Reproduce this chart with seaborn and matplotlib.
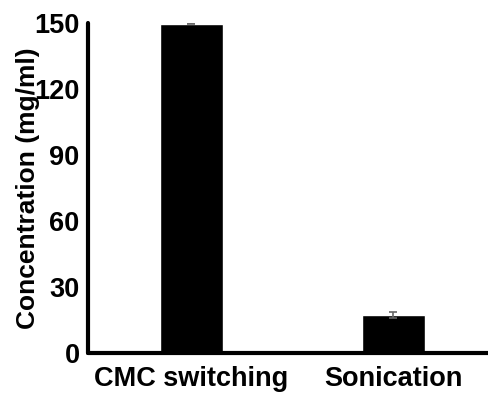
import matplotlib
matplotlib.use("Agg")
import matplotlib.pyplot as plt
import seaborn as sns
import pandas as pd

categories = ["CMC switching", "Sonication"]
concentration = [149.8, 17.3]
errors = [0.3, 1.3]
yticks = [0, 30, 60, 90, 120, 150]

sns.set_style("white")
plt.rcParams['font.family'] = ['Liberation Sans', 'DejaVu Sans']
plt.rcParams['font.weight'] = 'bold'
plt.rcParams['text.color'] = 'black'
plt.rcParams['axes.labelcolor'] = 'black'
plt.rcParams['xtick.color'] = 'black'
plt.rcParams['ytick.color'] = 'black'

df = pd.DataFrame({"method": categories, "conc": concentration})

fig = plt.figure(figsize=(4.88, 3.96), dpi=100)
ax = fig.add_axes([88/488, 1 - 353.3/396, 1 - 88/488, (353.3 - 23.3)/396])
sns.barplot(data=df, x="method", y="conc", color="black", width=0.31,
            saturation=1, errorbar=None, ax=ax)
ax.errorbar(x=list(range(len(categories))), y=concentration, yerr=errors,
            fmt='none', ecolor='#666666', elinewidth=1.2, capsize=3, capthick=1.2)

ax.set_xlim(-0.512, 1.468)
ax.set_ylim(0, 150)
ax.set_yticks(yticks)
ax.set_yticklabels([str(t) for t in yticks])
ax.set_xlabel("")
ax.set_ylabel("Concentration (mg/ml)", fontsize=19, fontweight='bold',
              labelpad=-4, color='black')

for s in ["top", "right"]:
    ax.spines[s].set_visible(False)
for s in ["left", "bottom"]:
    ax.spines[s].set_linewidth(3)
    ax.spines[s].set_color("black")
    ax.spines[s].set_capstyle("round")

ax.tick_params(axis='y', direction='out', length=2, width=3, color='black',
               labelcolor='black', labelsize=19.5, pad=4)
ax.tick_params(axis='x', length=0, labelsize=19.5, pad=9, labelcolor='black')
for lab in ax.get_xticklabels() + ax.get_yticklabels():
    lab.set_fontweight('bold')
    lab.set_color('black')

fig.savefig("out.png", dpi=100)
